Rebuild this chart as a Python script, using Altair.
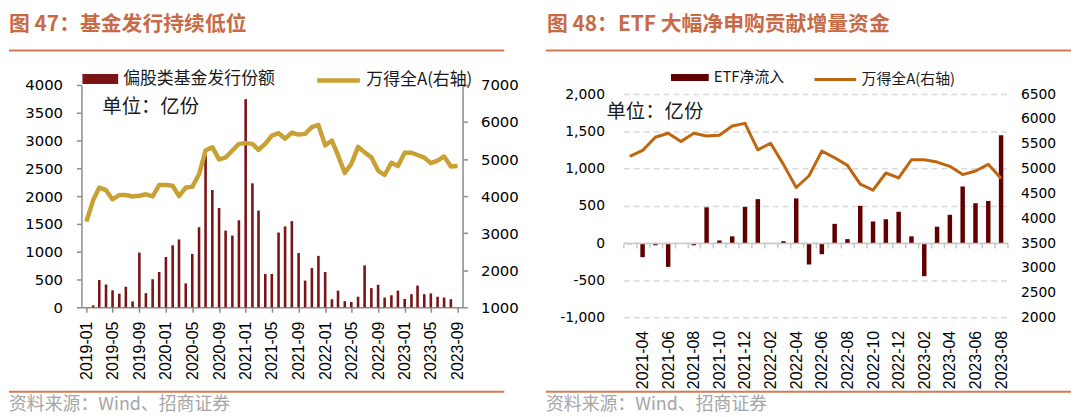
import altair as alt
import pandas as pd

# ---------------- data ----------------
fund_months = [f"{y}-{m:02d}" for y in range(2019, 2024) for m in range(1, 13)][:57]
fund_issuance = [0, 35, 490, 410, 305, 245, 370, 105, 985, 255, 505, 635,
                 905, 1115, 1220, 430, 960, 1440, 2730, 2110, 1785, 1380, 1290, 1565,
                 3745, 2230, 1740, 600, 600, 1345, 1455, 1550, 975, 480, 705, 925,
                 635, 145, 300, 110, 95, 190, 755, 345, 405, 175, 215, 300,
                 150, 235, 390, 235, 250, 190, 175, 145, 0]
wind_a_left = [3310, 3890, 4230, 4160, 3910, 4030, 4030, 3990, 4010, 4050, 3990, 4300,
               4300, 4280, 4000, 4230, 4250, 4590, 5230, 5320, 4990, 5040, 5230, 5410,
               5430, 5410, 5250, 5410, 5630, 5700, 5550, 5710, 5660, 5680, 5860, 5920,
               5370, 5500, 5100, 4625, 4870, 5330, 5180, 5050, 4690, 4570, 4900, 4810,
               5170, 5170, 5110, 5040, 4890, 4960, 5070, 4800, 4810]
left_tick_months = fund_months[::4]

etf_months = fund_months[26:56]  # 2021-03 .. 2023-08
etf_flow = [-15, -190, -30, -320, 0, -30, 480, 35, 90, 485,
            590, 0, 25, 600, -288, -150, 258, 53, 500, 290, 320, 420,
            90, -445, 220, 380, 760, 535, 565, 1448]
wind_a_right = [5246, 5366, 5632, 5712, 5546, 5712, 5659, 5672, 5859, 5912,
                5379, 5512, 5086, 4620, 4856, 5352, 5219, 5066, 4686, 4566, 4912, 4812,
                5179, 5179, 5132, 5046, 4880, 4952, 5086, 4800]

left_title = "图 47：基金发行持续低位"
right_title = "图 48：ETF 大幅净申购贡献增量资金"
left_bar_name = "偏股类基金发行份额"
right_bar_name = "ETF净流入"
line_name = "万得全A(右轴)"
unit_text = "单位：亿份"
source_text = "资料来源：Wind、招商证券"

# ---------------- styles ----------------
CJK = "Noto Sans CJK SC"
NUM = "DejaVu Sans"
LAT = "Liberation Sans"
TITLE_C = "#C76B47"
RULE_C = "#D27A55"
SRC_C = "#A6A6A6"
AX_C = "#8C8C8C"
L_BAR = "#7A1416"
L_LINE = "#C9A033"
R_BAR = "#600000"
R_LINE = "#C0650F"


def one(text):
    return pd.DataFrame({"t": [text]})


def hrule(x1, x2, y):
    return alt.Chart(one(None)).mark_rule(color=RULE_C, strokeWidth=2).encode(
        x=alt.value(x1), x2=alt.value(x2), y=alt.value(y))


def text_layer(text, x, y, size, color, weight="normal", baseline="top"):
    return alt.Chart(one(text)).mark_text(
        align="left", baseline=baseline, font=CJK, fontSize=size,
        fontWeight=weight, color=color).encode(
        text="t:N", x=alt.value(x), y=alt.value(y))


# ---------------- left panel ----------------
df_l = pd.DataFrame({
    "date": [m + "-01" for m in fund_months],
    "issuance": fund_issuance,
    "wind": wind_a_left,
    "bs": left_bar_name,
    "ls": line_name,
})

x_dom = [alt.DateTime(year=2019, month=1, date=1, utc=True),
         alt.DateTime(year=2023, month=9, date=1, utc=True)]
x_vals = [alt.DateTime(year=int(m[:4]), month=int(m[5:]), date=1, utc=True)
          for m in left_tick_months]
x_axis_l = alt.Axis(values=x_vals, format="%Y-%m", labelAngle=-90, title=None,
                    domainColor=AX_C, domainWidth=1.5, tickColor=AX_C, tickWidth=1.5,
                    tickSize=5, labelPadding=9, labelFont=LAT, labelFontSize=16,
                    labelColor="#000", grid=False, labelFlush=False, labelOverlap=False)
x_l = alt.X("date:T", scale=alt.Scale(type="utc", domain=x_dom, nice=False), axis=x_axis_l)

bars_l = alt.Chart(df_l).mark_bar(size=2.6).encode(
    x=x_l,
    y=alt.Y("issuance:Q", scale=alt.Scale(domain=[0, 4000], nice=False),
            axis=alt.Axis(orient="left", values=list(range(0, 4001, 500)), title=None,
                          format="d",
                          domainColor=AX_C, domainWidth=1.5, tickColor=AX_C, tickWidth=1.5,
                          tickSize=5, labelPadding=14, labelFont=NUM, labelFontSize=15,
                          labelColor="#000", grid=False)),
    color=alt.Color("bs:N", scale=alt.Scale(domain=[left_bar_name], range=[L_BAR]),
                    legend=alt.Legend(title=None, orient="none", legendX=1, legendY=-24,
                                      symbolType="M-1,-0.28L1,-0.28L1,0.28L-1,0.28Z",
                                      symbolSize=1296, symbolStrokeWidth=0,
                                      labelFont=CJK, labelFontSize=17, labelColor="#1a1a1a",
                                      labelOffset=5, padding=0)),
)
line_l = alt.Chart(df_l).mark_line(strokeWidth=4.5, strokeJoin="round").encode(
    x=x_l,
    y=alt.Y("wind:Q", scale=alt.Scale(domain=[1000, 7000], nice=False),
            axis=alt.Axis(orient="right", values=list(range(1000, 7001, 1000)), title=None,
                          format="d",
                          domainColor=AX_C, domainWidth=1.5, tickColor=AX_C, tickWidth=1.5,
                          tickSize=5, labelPadding=13, labelFont=NUM, labelFontSize=15,
                          labelColor="#000", grid=False)),
    stroke=alt.Stroke("ls:N", scale=alt.Scale(domain=[line_name], range=[L_LINE]),
                      legend=alt.Legend(title=None, orient="none", legendX=235, legendY=-28.5,
                                        symbolType="stroke", symbolSize=1849,
                                        symbolStrokeWidth=4.5,
                                        labelFont=CJK, labelFontSize=17, labelColor="#1a1a1a",
                                        labelOffset=4, padding=0)),
)

left = alt.layer(
    bars_l, line_l,
    hrule(-73, 426, -34.7), hrule(-73, 426, 309),
    text_layer(left_title, -73, -71, 21, TITLE_C, "bold"),
    text_layer(unit_text, 21, 22, 19.5, "#1a1a1a", baseline="middle"),
    text_layer(source_text, -73, 313, 18, SRC_C),
).resolve_scale(y="independent", color="independent", stroke="independent").properties(
    width=384, height=224)

# ---------------- right panel ----------------
# plot origin shared with the left panel; value area starts 9.3px lower
R_H = 234.3
R_TOP = 9.3

df_r = pd.DataFrame({
    "month": etf_months,
    "flow": etf_flow,
    "wind": wind_a_right,
    "bs": right_bar_name,
    "ls": line_name,
})

x_axis_r = alt.Axis(title=None, offset=-75, tickBand="extent", labelAngle=-90,
                    domainColor="#C8C8C8", domainWidth=1.5, tickColor="#C8C8C8",
                    tickWidth=1.5, tickSize=5, labelPadding=83, labelFont=LAT,
                    labelFontSize=16, labelColor="#000", zindex=1,
                    labelExpr="toNumber(slice(datum.label, 5)) % 2 == 0 ? datum.label : ''")
x_r = alt.X("month:O", scale=alt.Scale(domain=etf_months, paddingInner=0, paddingOuter=0),
            axis=x_axis_r)

bars_r = alt.Chart(df_r).mark_bar(size=4.5).encode(
    x=x_r,
    y=alt.Y("flow:Q", scale=alt.Scale(domain=[-1000, 2000], nice=False, range=[R_H, R_TOP]),
            axis=alt.Axis(orient="left", values=list(range(-1000, 2001, 500)), title=None,
                          format=",.0f", domain=False, ticks=False, labelPadding=19,
                          labelFont=NUM, labelFontSize=14, labelColor="#000",
                          labelExpr="replace(datum.label, '\u2212', '-')",
                          grid=True, gridColor="#D9D9D9", gridDash=[6, 4], gridWidth=1.5)),
    color=alt.Color("bs:N", scale=alt.Scale(domain=[right_bar_name], range=[R_BAR]),
                    legend=alt.Legend(title=None, orient="none", legendX=48, legendY=-26.5,
                                      symbolType="M-1,-0.184L1,-0.184L1,0.184L-1,0.184Z",
                                      symbolSize=1444, symbolStrokeWidth=0,
                                      labelFont=CJK, labelFontSize=15, labelColor="#1a1a1a",
                                      labelOffset=5, padding=0)),
)
line_r = alt.Chart(df_r).mark_line(strokeWidth=3, strokeJoin="round").encode(
    x=x_r,
    y=alt.Y("wind:Q", scale=alt.Scale(domain=[2000, 6500], nice=False, range=[R_H, R_TOP]),
            axis=alt.Axis(orient="right", values=list(range(2000, 6501, 500)), title=None,
                          format="d",
                          domain=False, ticks=False, labelPadding=13, labelFont=NUM,
                          labelFontSize=14, labelColor="#000", grid=False)),
    stroke=alt.Stroke("ls:N", scale=alt.Scale(domain=[line_name], range=[R_LINE]),
                      legend=alt.Legend(title=None, orient="none", legendX=191, legendY=-28,
                                        symbolType="stroke", symbolSize=1764,
                                        symbolStrokeWidth=3,
                                        labelFont=CJK, labelFontSize=15, labelColor="#1a1a1a",
                                        labelOffset=4, padding=0)),
)

right = alt.layer(
    bars_r, line_r,
    hrule(-78, 451, -34.7), hrule(-78, 451, 309),
    text_layer(right_title, -77, -71, 21, TITLE_C, "bold"),
    text_layer(unit_text, -17, 27.5, 19.5, "#1a1a1a", baseline="middle"),
    text_layer(source_text, -78, 313, 18, SRC_C),
).resolve_scale(y="independent", color="independent", stroke="independent").properties(
    width=387, height=R_H)

chart = alt.hconcat(left, right, spacing=26).properties(
    padding={"left": 0, "top": 5, "right": 0, "bottom": 0},
    background="white",
).configure_view(stroke=None)

chart.save("out.html", embed_options={"renderer": "svg", "actions": False})
